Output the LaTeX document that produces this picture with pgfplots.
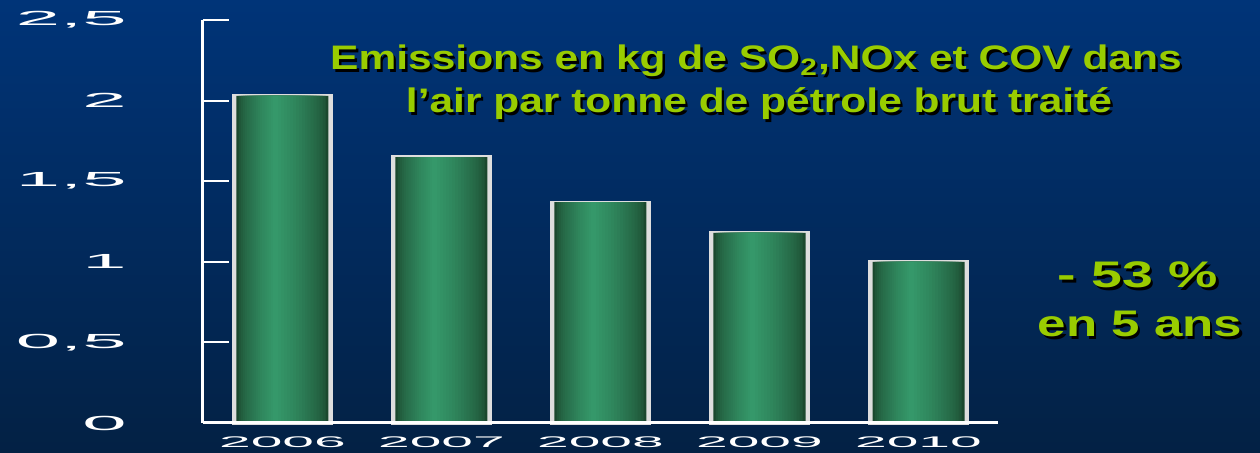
\documentclass[border=0pt]{standalone}
\usepackage{fontspec}
\setmainfont{Liberation Sans}
\usepackage{graphicx}
\usepackage{pgfplots}
\usepackage{pgfplotstable}
\pgfplotsset{compat=1.18}

\definecolor{bgtop}{RGB}{0,52,120}
\definecolor{bgbot}{RGB}{3,33,68}
\definecolor{lime}{RGB}{153,204,0}
\definecolor{bardark}{RGB}{27,72,46}
\definecolor{barlight}{RGB}{53,152,106}
\definecolor{barrim}{RGB}{222,222,222}

% wide tick labels, as in the slide
\newcommand{\ywide}[1]{\scalebox{3.9}[1]{\fontsize{10.2}{12}\selectfont #1}}
\newcommand{\xwide}[1]{\scalebox{3.7}[1]{\fontsize{7.7}{9}\selectfont #1}}

% kg per tonne of crude processed
\pgfplotstableread{
x y
0 2.03
1 1.65
2 1.37
3 1.18
4 1.00
}\bardata

\begin{document}
\begin{tikzpicture}
\fill[top color=bgtop, bottom color=bgbot] (-101.5pt,-15pt) rectangle (528.5pt,211.5pt);
\begin{axis}[
    at={(0pt,0pt)}, anchor=south west,
    scale only axis,
    width=397.5pt, height=201.5pt,
    xmin=-0.5, xmax=4.5,
    ymin=0, ymax=2.5,
    axis x line*=bottom,
    axis y line*=left,
    axis line style={-, white, line width=1.5pt},
    tick align=inside,
    major tick length=13pt,
    minor tick length=2pt,
    ytick={0,0.5,1,1.5,2,2.5},
    yticklabels={\ywide{0},\ywide{0,5},\ywide{1},\ywide{1,5},\ywide{2},\ywide{2,5}},
    xtick={0,1,2,3,4},
    xticklabels={\xwide{2006},\xwide{2007},\xwide{2008},\xwide{2009},\xwide{2010}},
    minor xtick={0.5,1.5,2.5,3.5,4.5},
    xtick style={draw=none},
    ytick style={white, line width=1pt},
    minor x tick style={white, line width=1.5pt, yshift=-2pt},
    yticklabel style={white, anchor=east, inner sep=0pt, xshift=-38pt},
    xticklabel style={white, anchor=center, inner sep=0pt, yshift=-9.5pt},
    axis on top,
    clip=false,
]
% rim of the bars
\addplot[ybar, bar width=49.2pt, bar shift=0pt, fill=barrim, draw=barrim, line width=1.6pt]
  table {\bardata};
% green bars: stacked narrower layers give the cylinder shading
\pgfplotsinvokeforeach{0,...,17}{
  \pgfmathsetmacro{\w}{46*(1-#1/18)}
  \pgfmathsetmacro{\s}{-3.5*#1/17}
  \pgfmathtruncatemacro{\pct}{100*(#1/17)^0.6}
  \edef\temp{\noexpand\addplot[ybar, bar width=\w pt, bar shift=\s pt,
    draw=none, fill=barlight!\pct!bardark] table {\noexpand\bardata};}
  \temp
}
\end{axis}

\foreach \dx/\dy/\col in {1.2pt/-1.2pt/black, 0pt/0pt/lime} {
  \node[text=\col, anchor=base, inner sep=0pt, xshift=\dx, yshift=\dy,
        font=\fontsize{17}{20}\selectfont\bfseries] at (276.5pt,176.5pt)
    {\scalebox{1.25}[1]{Emissions en kg de SO\textsubscript{2},NOx et COV dans}};
  \node[text=\col, anchor=base, inner sep=0pt, xshift=\dx, yshift=\dy,
        font=\fontsize{17}{20}\selectfont\bfseries] at (278pt,155pt)
    {\scalebox{1.25}[1]{l’air par tonne de pétrole brut traité}};
  \node[text=\col, anchor=base, inner sep=0pt, xshift=\dx, yshift=\dy,
        font=\fontsize{18.5}{20}\selectfont\bfseries] at (467.5pt,67.5pt)
    {\scalebox{1.5}[1]{- 53 \%}};
  \node[text=\col, anchor=base, inner sep=0pt, xshift=\dx, yshift=\dy,
        font=\fontsize{18.5}{20}\selectfont\bfseries] at (468.5pt,43pt)
    {\scalebox{1.38}[1]{en 5 ans}};
}
\end{tikzpicture}
\end{document}
